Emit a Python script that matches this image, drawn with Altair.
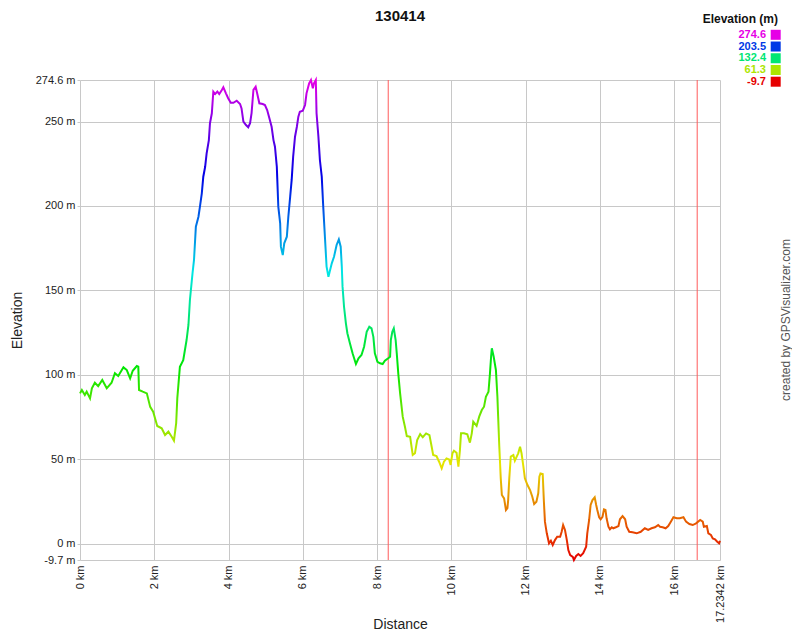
import colorsys
import altair as alt
import pandas as pd

# ---------------- data ----------------
title_text = "130414"

distance_km = [
    0.00, 0.05, 0.13, 0.18, 0.27, 0.32, 0.40, 0.49, 0.60, 0.72, 0.85, 0.94, 1.03, 1.17, 1.26,
    1.35, 1.42, 1.53, 1.57, 1.59, 1.69, 1.80, 1.89, 1.97, 2.08, 2.20, 2.29, 2.38, 2.47, 2.53,
    2.59, 2.62, 2.69, 2.78, 2.87, 2.92, 2.96, 3.03, 3.07, 3.12, 3.19, 3.23, 3.28, 3.32, 3.37,
    3.41, 3.47, 3.50, 3.55, 3.59, 3.64, 3.70, 3.75, 3.82, 3.86, 3.93, 3.99, 4.06, 4.13, 4.22,
    4.31, 4.35, 4.40, 4.47, 4.53, 4.58, 4.62, 4.67, 4.73, 4.77, 4.83, 4.92, 4.98, 5.04, 5.10,
    5.16, 5.21, 5.25, 5.30, 5.34, 5.39, 5.41, 5.46, 5.50, 5.57, 5.61, 5.66, 5.70, 5.74, 5.79,
    5.84, 5.88, 5.92, 6.00, 6.06, 6.10, 6.17, 6.22, 6.27, 6.30, 6.35, 6.37, 6.42, 6.46, 6.51,
    6.55, 6.58, 6.62, 6.64, 6.69, 6.78, 6.84, 6.91, 6.97, 7.02, 7.05, 7.07, 7.11, 7.16, 7.20,
    7.27, 7.34, 7.43, 7.50, 7.58, 7.65, 7.72, 7.79, 7.85, 7.90, 7.94, 8.01, 8.08, 8.15, 8.21,
    8.30, 8.35, 8.37, 8.41, 8.45, 8.50, 8.53, 8.57, 8.62, 8.69, 8.75, 8.80, 8.89, 8.96, 9.02,
    9.08, 9.16, 9.23, 9.32, 9.41, 9.47, 9.51, 9.60, 9.67, 9.74, 9.80, 9.87, 9.94, 9.98, 10.03,
    10.07, 10.14, 10.19, 10.23, 10.26, 10.34, 10.43, 10.50, 10.55, 10.59, 10.68, 10.75, 10.82, 10.88, 10.93,
    11.00, 11.04, 11.07, 11.09, 11.14, 11.20, 11.24, 11.26, 11.29, 11.33, 11.36, 11.42, 11.47, 11.51, 11.53,
    11.56, 11.60, 11.67, 11.71, 11.76, 11.80, 11.85, 11.89, 11.94, 11.98, 12.05, 12.12, 12.18, 12.23, 12.29,
    12.34, 12.37, 12.40, 12.46, 12.49, 12.52, 12.57, 12.63, 12.68, 12.73, 12.79, 12.85, 12.93, 12.97, 13.01,
    13.06, 13.11, 13.15, 13.20, 13.27, 13.30, 13.36, 13.42, 13.48, 13.55, 13.63, 13.66, 13.71, 13.75, 13.80,
    13.86, 13.90, 13.93, 13.98, 14.02, 14.07, 14.11, 14.15, 14.18, 14.23, 14.27, 14.32, 14.36, 14.43, 14.50,
    14.54, 14.61, 14.68, 14.72, 14.79, 14.88, 14.99, 15.10, 15.21, 15.30, 15.39, 15.48, 15.57, 15.62, 15.69,
    15.77, 15.84, 15.91, 15.98, 16.07, 16.15, 16.25, 16.32, 16.41, 16.50, 16.59, 16.70, 16.77, 16.80, 16.88,
    16.92, 16.99, 17.04, 17.10, 17.16, 17.21, 17.2342,
]

elevation_m = [
    89.0, 91.0, 88.0, 90.0, 86.0, 92.0, 95.3, 93.3, 96.9, 92.0, 95.3, 100.9, 99.3, 104.4, 102.8,
    97.9, 102.4, 105.2, 104.8, 91.0, 90.0, 89.0, 81.0, 78.1, 69.7, 68.3, 64.3, 66.3, 63.3, 61.0,
    71.3, 86.0, 104.8, 108.7, 120.6, 129.5, 144.3, 160.1, 168.0, 187.7, 193.6, 199.6, 207.5, 217.3, 223.2,
    231.2, 239.0, 249.0, 254.9, 267.7, 266.3, 267.7, 266.3, 268.7, 270.3, 266.7, 263.8, 261.1, 261.1, 262.3,
    260.4, 257.8, 249.9, 247.9, 246.6, 249.0, 254.9, 268.7, 270.6, 266.7, 260.8, 260.4, 259.8, 256.8, 251.9,
    246.9, 239.0, 235.1, 223.2, 199.6, 189.7, 175.9, 170.9, 177.9, 181.8, 193.6, 205.5, 215.4, 229.2, 241.0,
    246.9, 252.9, 255.8, 256.4, 259.8, 266.7, 272.6, 274.6, 269.7, 272.6, 274.6, 254.9, 241.0, 227.2, 217.3,
    199.6, 187.7, 171.9, 164.0, 158.1, 166.0, 169.9, 176.9, 180.2, 175.9, 164.0, 152.2, 140.3, 130.5, 124.6,
    118.6, 112.7, 106.4, 109.8, 111.7, 116.6, 125.5, 128.5, 127.5, 122.5, 112.7, 107.7, 106.8, 106.4, 108.3,
    109.8, 110.7, 120.6, 125.5, 127.5, 120.6, 112.7, 100.9, 89.0, 75.2, 69.2, 63.7, 63.3, 52.5, 53.5,
    61.4, 64.9, 63.0, 65.3, 64.3, 57.4, 52.5, 51.9, 48.5, 44.6, 48.5, 50.5, 49.9, 46.6, 53.5,
    55.0, 53.8, 45.6, 55.0, 65.3, 65.3, 64.7, 59.8, 65.3, 72.2, 69.7, 75.2, 79.1, 81.1, 87.0,
    90.0, 100.9, 110.7, 115.7, 110.7, 102.8, 87.0, 75.2, 58.0, 38.7, 28.8, 26.8, 19.9, 21.0, 25.8,
    38.7, 51.5, 52.5, 49.1, 51.5, 53.5, 57.4, 53.5, 45.6, 38.7, 34.7, 31.7, 27.8, 23.5, 24.8,
    29.8, 39.6, 41.6, 41.2, 25.8, 13.0, 6.1, 0.2, 1.7, -0.8, 2.1, 4.1, 4.1, 7.0, 11.0,
    8.1, 2.1, -3.8, -6.8, -7.8, -9.7, -7.3, -6.2, -7.3, -5.7, -1.8, 6.1, 14.0, 22.9, 25.8,
    27.4, 22.9, 19.9, 15.6, 14.4, 15.9, 20.3, 19.9, 15.0, 10.0, 8.5, 9.7, 9.1, 9.7, 10.4,
    14.4, 16.3, 14.4, 10.0, 7.0, 6.7, 6.1, 7.0, 9.1, 8.1, 9.1, 9.7, 11.0, 10.0, 9.7,
    9.1, 10.4, 13.0, 15.6, 15.0, 15.0, 15.6, 13.0, 11.6, 11.0, 12.0, 14.0, 13.0, 10.0, 10.4,
    6.1, 5.1, 3.1, 2.5, 1.1, 0.2, 1.7,
]

marker_km = [8.30, 16.62]
x_ticks = [0, 2, 4, 6, 8, 10, 12, 14, 16, 17.2342]
y_ticks = [-9.7, 0, 50, 100, 150, 200, 250, 274.6]
legend_values = [274.6, 203.5, 132.4, 61.3, -9.7]

E_MIN, E_MAX = -9.7, 274.6
X_MAX = 17.2342
FONT = "Liberation Sans"
GRID = "#c8c8c8"


def elev_color(frac):
    r, g, b = colorsys.hsv_to_rgb(frac * 300 / 360, 1, 0.9)
    return "#%02x%02x%02x" % (round(r * 255), round(g * 255), round(b * 255))


stops = [alt.GradientStop(offset=i / 20, color=elev_color(i / 20)) for i in range(21)]
gradient = alt.LinearGradient(gradient="linear", stops=stops, x1=0, x2=0, y1=1, y2=0)

profile = pd.DataFrame({"km": distance_km, "m": elevation_m})
markers = pd.DataFrame({"km": marker_km})
legend_df = pd.DataFrame({
    "label": [f"{v}" for v in legend_values],
    "hex": [elev_color((v - E_MIN) / (E_MAX - E_MIN)) for v in legend_values],
})

x_enc = alt.X(
    "km:Q",
    scale=alt.Scale(domain=[0, X_MAX], nice=False, zero=False),
    axis=alt.Axis(
        values=x_ticks, labelExpr="datum.value + ' km'", labelAngle=270,
        grid=True, gridColor=GRID, ticks=False, domain=False, labelPadding=5,
        labelFontSize=11, labelColor="#222", labelFont=FONT,
        title="Distance", titleFontSize=14, titleFontWeight="normal", titleColor="#222",
        titleFont=FONT, titleY=64, titleBaseline="middle",
    ),
)
y_enc = alt.Y(
    "m:Q",
    scale=alt.Scale(domain=[E_MIN, E_MAX], nice=False, zero=False),
    axis=alt.Axis(
        values=y_ticks, labelExpr="datum.value + ' m'",
        grid=True, gridColor=GRID, ticks=True, tickSize=3, tickColor=GRID, domain=False,
        labelPadding=2, labelFontSize=11, labelColor="#222", labelFont=FONT,
        title="Elevation", titleFontSize=14, titleFontWeight="normal", titleColor="#222",
        titleFont=FONT, titleX=-63, titleY=240, titleAngle=270, titleAlign="center",
        titleBaseline="middle",
    ),
)

line = alt.Chart(profile).mark_line(stroke=gradient, strokeWidth=2).encode(x=x_enc, y=y_enc)

rules = alt.Chart(markers).mark_rule(color="#ff5a5a", strokeWidth=1).encode(x=alt.X("km:Q"))

title = alt.Chart(pd.DataFrame({"t": [title_text]})).mark_text(
    fontSize=15, fontWeight="bold", font=FONT, color="#111", align="center", baseline="alphabetic"
).encode(text="t:N", x=alt.value(320), y=alt.value(-59.5))

legend_title = alt.Chart(pd.DataFrame({"t": ["Elevation (m)"]})).mark_text(
    fontSize=12, fontWeight="bold", font=FONT, color="#111", align="right", baseline="alphabetic"
).encode(text="t:N", x=alt.value(698), y=alt.value(-57))

leg_y = alt.Y("label:N", sort=None, axis=None,
              scale=alt.Scale(type="point", range=[-45.2, 1.7], padding=0))
legend_text = alt.Chart(legend_df).mark_text(
    fontSize=11, fontWeight="bold", font=FONT, align="right", baseline="middle"
).encode(text="label:N", y=leg_y, x=alt.value(686), color=alt.Color("hex:N", scale=None))
legend_sq = alt.Chart(legend_df).mark_square(size=100, opacity=1).encode(
    y=leg_y, x=alt.value(695.7), color=alt.Color("hex:N", scale=None)
)

credit = alt.Chart(pd.DataFrame({"t": ["created by GPSVisualizer.com"]})).mark_text(
    fontSize=12, font=FONT, color="#555", angle=270, align="center", baseline="middle"
).encode(text="t:N", x=alt.value(706), y=alt.value(240))

chart = (
    alt.layer(rules, line, title, legend_title, legend_text, legend_sq, credit)
    .resolve_scale(y="independent")
    .properties(
        width=640, height=480,
        autosize=alt.AutoSizeParams(type="none"),
        padding={"left": 72, "top": 72, "right": 72, "bottom": 70},
    )
    .configure(font=FONT)
    .configure_view(stroke=None)
)

chart.save("out.html", embed_options={"renderer": "svg", "actions": False})
